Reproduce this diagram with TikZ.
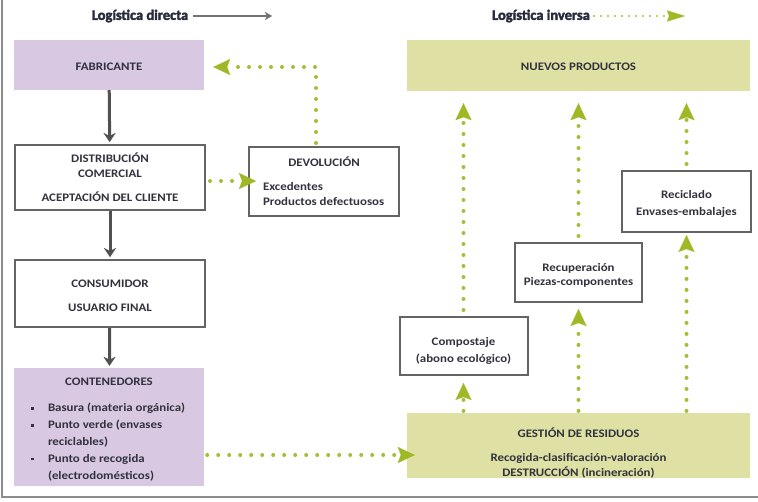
\documentclass[tikz,border=0pt]{standalone}
\usepackage{fontspec}
\setmainfont{Carlito}[FakeStretch=1.12]
\newfontfamily\headfont{Carlito}[FakeStretch=1.0, FakeBold=2.5]
\usetikzlibrary{arrows.meta}
\definecolor{lav}{RGB}{216,200,226}
\definecolor{olive}{RGB}{223,225,164}
\definecolor{grn}{RGB}{158,184,38}
\definecolor{dotg}{RGB}{165,190,55}
\definecolor{txt}{RGB}{50,50,62}
\definecolor{htxt}{RGB}{40,44,60}
\definecolor{bord}{RGB}{100,100,100}
\definecolor{garr}{RGB}{80,80,80}
\definecolor{frame}{RGB}{140,140,140}
\newcommand{\sqb}{\raisebox{2pt}{\rule{2.6pt}{2.6pt}}}
\begin{document}
\begin{tikzpicture}[x=1pt,y=-1pt,
  every node/.style={font=\bfseries\fontsize{11.5}{15}\selectfont, text=txt, inner sep=0pt},
  lavbox/.style={fill=lav, draw=none},
  olbox/.style={fill=olive, draw=none},
  wbox/.style={fill=white, draw=bord, line width=2pt},
  garrow/.style={draw=garr, line width=3pt, -{Stealth[length=9pt,width=12pt,inset=3pt,line width=0.1pt]}},
  dots/.style={draw=dotg, line width=4pt, line cap=round, dash pattern=on 0pt off 11pt,
     -{Stealth[length=17pt,width=16pt,inset=3pt,line width=0.1pt,fill=grn,color=grn]}},
  head/.style={font=\headfont\bfseries\fontsize{14.5}{16}\selectfont, text=htxt}
]
\useasboundingbox (0,0) rectangle (758,501);
% frame
\draw[frame, line width=2.2pt] (2,0) -- (2,497) -- (758,497);

% headings
\node[head] (hdir) at (140,16) {Logística directa};
\coordinate (hdirend) at (272,16);
\draw[draw=garr!80, line width=1.8pt, -{Stealth[length=7pt,width=8pt,inset=2pt,line width=0.1pt]}] ([xshift=5pt]hdir.east) -- (hdirend);
\node[head] (hinv) at (541,16) {Logística inversa};
\coordinate (hinvend) at (685,16);
\draw[draw=dotg, line width=2.2pt, line cap=round, dash pattern=on 0pt off 7pt,
  -{Stealth[length=18pt,width=11pt,inset=2pt,line width=0.1pt,fill=grn,color=grn]}] ([xshift=4pt]hinv.east) -- (hinvend);

% boxes
\node[lavbox, minimum width=190, minimum height=50] (fab) at (109,65) {\rule{0pt}{11pt}FABRICANTE};
\node[olbox, minimum width=343, minimum height=51] (nuevos) at (578.5,65.5) {\rule{0pt}{11pt}NUEVOS PRODUCTOS};
\node[wbox, minimum width=190, minimum height=65, align=center] (dist) at (110,177.5)
  {DISTRIBUCIÓN\\COMERCIAL\\[9pt]ACEPTACIÓN DEL CLIENTE};
\node[wbox, minimum width=150, minimum height=69, align=left] (dev) at (324,181.5)
  {\makebox[122pt][c]{DEVOLUCIÓN}\\[9pt]Excedentes\\Productos defectuosos};
\node[wbox, minimum width=190, minimum height=67, align=center] (cons) at (110,293.5)
  {\rule{0pt}{12pt}CONSUMIDOR\\[9pt]USUARIO FINAL};
\node[lavbox, minimum width=190, minimum height=118, align=left, font=\bfseries\fontsize{11.5}{16.8}\selectfont] (cont) at (109,427)
  {\makebox[156pt][c]{\rule{0pt}{12pt}CONTENEDORES}\\[10pt]%
   \makebox[17pt][l]{\sqb}Basura (materia orgánica)\\
   \makebox[17pt][l]{\sqb}Punto verde (envases\\
   \hspace*{17pt}reciclables)\\
   \makebox[17pt][l]{\sqb}Punto de recogida\\
   \hspace*{17pt}(electrodomésticos)};
\node[olbox, minimum width=343, minimum height=61, align=center] (gest) at (578.5,445.5)
  {\rule{0pt}{24pt}GESTIÓN DE RESIDUOS\\[9pt]Recogida-clasificación-valoración\\DESTRUCCIÓN (incineración)};
\node[wbox, minimum width=128, minimum height=58, align=center, font=\bfseries\fontsize{11.5}{16.5}\selectfont] (comp) at (463.5,346)
  {\rule{0pt}{18pt}Compostaje\\(abono ecológico)};
\node[wbox, minimum width=127, minimum height=59, align=center, font=\bfseries\fontsize{11.5}{14.5}\selectfont] (recu) at (578.5,272.5)
  {\rule{0pt}{14pt}Recuperación\\Piezas-componentes};
\node[wbox, minimum width=129, minimum height=61, align=center, font=\bfseries\fontsize{11.5}{16.5}\selectfont] (reci) at (686.5,201.5)
  {\rule{0pt}{13pt}Reciclado\\Envases-embalajes};

% direct flow
\draw[garrow, shorten >=2pt] (fab) -- (dist);
\draw[garrow, shorten >=2pt] (dist) -- (cons);
\draw[garrow, shorten >=2pt] (cons) -- (cont);

% reverse flow
\draw[dots, shorten <=4pt, shorten >=-8pt] (dist.east |- 0,181) -- (dev.west |- 0,181);
\draw[dots, shorten <=3pt, shorten >=9pt] ([xshift=-8pt]dev.north) |- ([yshift=-2pt]fab.east);
\draw[dots, shorten <=3pt, shorten >=-8pt] (cont.east |- 0,455) -- (gest.west |- 0,455);

\draw[dots, shorten <=2pt, shorten >=7pt] (gest.north -| comp) -- (comp.south);
\draw[dots, shorten <=2pt, shorten >=6pt] (gest.north -| recu) -- (recu.south);
\draw[dots, shorten <=2pt, shorten >=2pt] (gest.north -| reci) -- (reci.south);

\draw[dots, shorten <=6pt, shorten >=12pt] (comp.north) -- (nuevos.south -| comp);
\draw[dots, shorten <=6pt, shorten >=12pt] (recu.north) -- (nuevos.south -| recu);
\draw[dots, shorten <=6pt, shorten >=12pt] (reci.north) -- (nuevos.south -| reci);
\end{tikzpicture}
\end{document}
